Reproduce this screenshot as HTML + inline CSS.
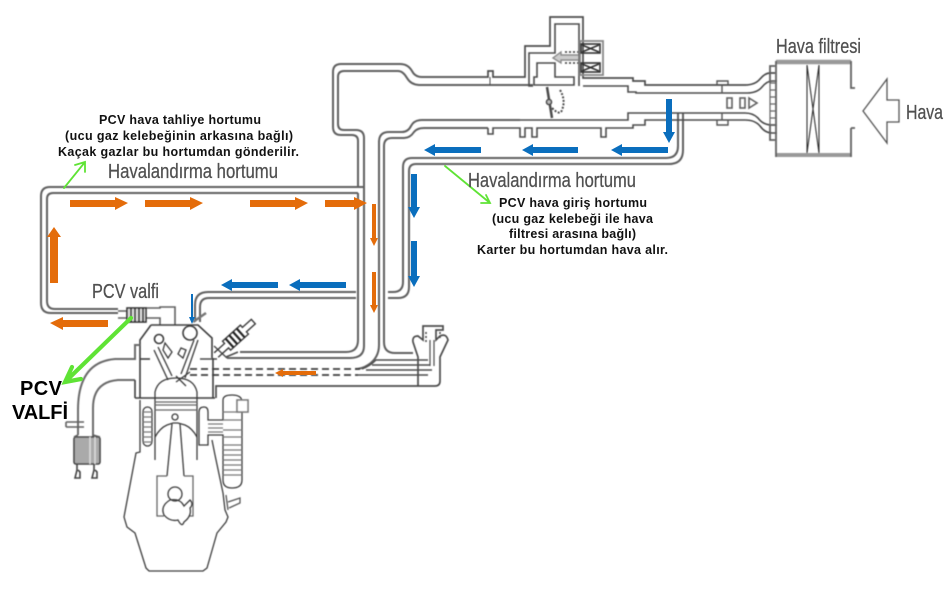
<!DOCTYPE html>
<html><head><meta charset="utf-8"><style>
html,body{margin:0;padding:0;background:#fff;width:947px;height:597px;overflow:hidden}
svg{display:block}
.b{font:bold 12.5px "Liberation Sans",sans-serif;fill:#111}
.g{font:20px "Liberation Sans",sans-serif;fill:#505050;stroke:#505050;stroke-width:.25}
.k{font:bold 20px "Liberation Sans",sans-serif;fill:#000}
</style></head><body>
<svg width="947" height="597" viewBox="0 0 947 597" xmlns="http://www.w3.org/2000/svg">
<defs><filter id="s" x="-5%" y="-5%" width="110%" height="110%"><feGaussianBlur stdDeviation="0.4"/></filter></defs>
<g fill="none" stroke="#505050" stroke-width="1.6" filter="url(#s)">
<!-- hoses -->
<g stroke="#606060" stroke-width="2">
<path d="M364 187H50Q41 187 41 196V303Q41 313 51 313H118"/>
<path d="M358 193H53Q47 193 47 199V301Q47 309 55 309H118"/>
<path d="M358 187V141Q358 135 352 135H341Q333 135 333 127V72Q333 64 341 64H400Q408 64 412 71Q415 77 422 77H487"/>
<path d="M364 187V138Q364 130 356 130H344Q338 130 338 124V77Q338 71 344 71H398Q403 71 407 78Q411 85 420 85H533"/>
<path d="M358 193V340Q358 352 346 352H240"/>
<path d="M364 187V346Q364 358 350 358H227"/>
<path d="M379 187V142Q379 132 389 132H402Q408 132 411 126Q414 120 422 120H520"/>
<path d="M384 187V146Q384 138 392 138H404Q410 138 414 132Q417 128 424 128H488"/>
<path d="M379 187V345Q379 358 368 365Q362 369 355 369"/>
<path d="M384 187V342Q384 353 395 353H413"/>
<path d="M678 113V146Q678 158 666 158H412Q403 158 403 167V282Q403 292 393 292H388"/>
<path d="M683 113V150Q683 164 669 164H416Q409 164 409 171V287Q409 298 398 298H388"/>
<path d="M356 292H208Q195 292 195 305V322"/>
<path d="M356 298H209Q200 298 200 307V322"/>
</g>
<!-- throttle body -->
<g stroke="#4c4c4c">
<path d="M487 77H488V71H493V77H525V46H550V17H583V78H633V81H645V85H745Q755 85 760 79Q765 73 770 73H775" stroke-width="1.7"/>
<path d="M533 86H529V53H555V24H579V86"/>
<path d="M490 77V85" stroke-width="1"/>
<path d="M583 86H628V92H636V93H747Q757 93 762 87Q767 81 772 81H777"/>
<path d="M534 85V77H537V63H555V77H574V85Z"/>
<path d="M488 128V134H493V128H520V137H525V128H532V137H537V128H601V137H606V128H633V125H645V120H745Q755 120 760 126Q765 133 772 133H777"/>
<path d="M520 120H628V113H745Q753 113 758 118Q763 125 772 125H777"/>
<path d="M717 85V81H728V85M717 120V125H728V120M722 85V93M722 113V120" stroke-width="1.4" stroke="#555"/>
<path d="M547 87L552 118" stroke-width="2.5"/>
<circle cx="549" cy="102" r="2.5" fill="#bbb"/>
<path d="M560 90Q566 100 562 110Q560 116 552 108" stroke-width="2" stroke-dasharray="2 1.5"/>
<rect x="580" y="41" width="23" height="34" stroke="#888" stroke-width="1.8"/>
<rect x="581" y="44" width="19" height="9" stroke="#333"/>
<path d="M582 45L599 52M582 52L599 45" stroke="#333"/>
<rect x="581" y="63" width="19" height="9" stroke="#333"/>
<path d="M582 64L599 71M582 71L599 64" stroke="#333"/>
<path d="M578 55H561V52L553 58L561 63V60H578" stroke="#888" stroke-width="1.4" fill="#ccc"/>
<path d="M565 52H578M565 63H578" stroke-dasharray="2 2" stroke="#333"/>
</g>
<!-- filter -->
<path d="M776 62H851" stroke="#999" stroke-width="4.5"/>
<path d="M776 155H851" stroke="#999" stroke-width="4"/>
<path d="M776 61V157M851 61V88H855M851 128H855M851 128V157M775 66H770V83M775 125H770V140H775" stroke="#606060" stroke-width="1.8"/>
<path d="M807 65V153M819 65V153M807 65L819 153M819 65L807 153" stroke="#333" stroke-width="1.1"/>
<path d="M770 83H776V125H770ZM770 90H776M770 97H776M770 104H776M770 111H776M770 118H776" stroke="#666" stroke-width="1.2"/>
<path d="M863 111L887 79V100H899V122H887V143Z" stroke="#555" stroke-width="1.3"/>
<rect x="727" y="98" width="5" height="10" stroke="#606060"/>
<rect x="740" y="98" width="5" height="10" stroke="#606060"/>
<path d="M749 98L757 103L749 108Z" stroke="#606060"/>
<!-- lower passage -->
<g stroke="#4c4c4c">
<path d="M190 369H360" stroke-dasharray="7 4" stroke="#3c3c3c" stroke-width="1.7"/>
<path d="M190 375H358" stroke-dasharray="7 4" stroke="#3c3c3c" stroke-width="1.7"/>
<path d="M216 398V386H435Q440 386 440 381V357L448 340Q446 333 440 336L436 340V330H443V326H423V340L418 336Q412 336 413 342L418 357V386" stroke-width="1.7"/>
<path d="M362 369Q370 366 376 360H428M372 365H430M366 370H432M358 375H428" stroke-width="1.4"/>
<path d="M430 340V366M434 340V366" stroke-width="1.2"/>
<path d="M426 332V342M440 332V338" stroke-dasharray="2 2"/>
<path d="M227 358L214 346M238 352L226 357M200 359H217" stroke-width="1.5"/>
</g>
<!-- PCV valve -->
<path d="M118 311H127M118 318H127V311M146 308H160V307H175V325M146 318H160V325" stroke="#606060" stroke-width="1.6"/>
<rect x="127" y="308" width="19" height="14" stroke="#333" fill="#ddd"/>
<path d="M131 308V322M135 308V322M139 308V322M143 308V322" stroke="#222"/>
<!-- head -->
<g stroke="#3c3c3c">
<path d="M151 325H198L212 338V358M151 325L140 340V398M135 398H215M213 358V398"/>
<path d="M140 345H135V359H115Q78 362 78 410V435" stroke="#6a6a6a" stroke-width="2"/>
<path d="M135 380H118Q93 382 93 408V437" stroke="#6a6a6a" stroke-width="2"/>
<path d="M135 380V398"/>
<path d="M140 359H150"/>
<circle cx="159" cy="339" r="4.5"/>
<path d="M154 350L168 380M158 347L172 376M165 343L172 352L168 358L163 350Z" stroke-width="1.3"/>
<circle cx="190" cy="333" r="7"/>
<path d="M198 340L185 378M194 340L181 374M181 348L186 350L183 358L178 354ZM176 382L190 372M176 376L186 386" stroke-width="1.3"/>
<path d="M193 322L206 313" stroke="#777" stroke-width="2.5"/>
<g transform="translate(234 339) rotate(-42)">
<path d="M-24 -3H-10V-6H14V-3H26V3H14V6H-10V3H-24" stroke-width="1.4"/>
<path d="M-6 -6V6M-1 -6V6M4 -6V6M9 -6V6" stroke="#222" stroke-width="2.2"/>
</g>
</g>
<!-- cylinder -->
<g stroke="#3c3c3c" stroke-width="1.3">
<path d="M155 460V392Q158 378 176 378Q194 378 197 392V460"/>
<path d="M155 402H197M155 405H197M155 410H197" stroke="#666"/>
<circle cx="175" cy="417" r="3"/>
<path d="M155 437Q160 428 167 425L173 423H178L185 425Q192 428 197 437"/>
<path d="M172 424L167 476M180 424L184 476"/>
<path d="M167 476H157V516H164M184 476H193V516H189" stroke="#666"/>
<circle cx="175" cy="494" r="7"/>
<path d="M170 500Q160 506 164 515Q170 522 178 520Q182 528 184 522Q192 516 190 508Q194 504 190 500L184 506Q180 498 170 500Z"/>
<path d="M140 400V452L136 453L124 517L127 527L135 533L146 568L149 571H203L207 568L217 533L226 522L228 517L225 510L223 493L215 455L212 440"/>
<rect x="143" y="407" width="9" height="39" rx="4.5"/>
<path d="M143 412H152M143 417H152M143 422H152M143 427H152M143 432H152M143 437H152M143 442H152" stroke="#777"/>
<path d="M199 445V412Q199 407 204 407Q208 407 208 412V420H223V400Q223 395 232 395Q242 395 242 402V480Q242 488 232 488Q223 488 223 480V435H208V445Z"/>
<path d="M208 424H223M208 428H223M208 432H223M223 445H242M223 450H242M223 455H242M223 460H242M223 465H242M223 470H242M223 475H242M223 412H242M223 420H242M223 430H242M223 437H242" stroke="#777"/>
<rect x="237" y="400" width="11" height="12" fill="#fff" stroke="#777" stroke-width="1.6"/>
<path d="M226 495L228 510M228 502L240 498V503L229 508" stroke="#555"/>
</g>
<!-- canister -->
<rect x="74" y="437" width="26" height="27" rx="2" fill="#aaa" stroke="#444"/>
<path d="M90 437V464M95 437V464" stroke="#ddd" stroke-width="1.5"/>
<path d="M66 422H84M66 427H84M66 422V427" stroke="#606060"/>
<path d="M78 435L74 437M93 435L100 437" stroke="#606060"/>
<path d="M77 464V470L75 478H80V472L78 470M94 464V470L92 478H97V472L95 470" stroke="#444"/>
</g>
<!-- arrows -->
<g fill="#e46c0a">
<path d="M70 200H115V197L128 203L115 210V207H70Z"/>
<path d="M145 200H190V197L203 203L190 210V207H145Z"/>
<path d="M250 200H295V197L308 203L295 210V207H250Z"/>
<path d="M325 200H354V197L367 203L354 210V207H325Z"/>
<path d="M50 283V237H47L54 227L61 237H58V283Z"/>
<path d="M50 323L63 317V320H108V327H63V330Z"/>
<path d="M372 204H376V238H378L374 246L370 238H372Z"/>
<path d="M372 272H376V305H378L374 313L370 305H372Z"/>
<path d="M275 373L283 369V371H316V375H283V377Z"/>
</g>
<g fill="#0a6ebd">
<path d="M221 285L232 279V282H278V288H232V291Z"/>
<path d="M289 285L300 279V282H346V288H300V291Z"/>
<path d="M424 150L435 144V147H481V153H435V156Z"/>
<path d="M522 150L533 144V147H578V153H533V156Z"/>
<path d="M611 150L622 144V147H668V153H622V156Z"/>
<path d="M666 99H672V132H675L669 143L663 132H666Z"/>
<path d="M411 174H417V207H420L414 218L408 207H411Z"/>
<path d="M411 241H417V276H420L414 287L408 276H411Z"/>
<path d="M191 294H193V317H195L192 324L189 317H191Z"/>
</g>
<!-- green -->
<g fill="none" stroke="#5fe335" stroke-linecap="round">
<path d="M64 188L85 162M75 165L85 162L85 172" stroke-width="1.8"/>
<path d="M445 166L490 203M481 203L490 203L486 195" stroke-width="1.8"/>
<path d="M131 318L65 382M72 367L65 382L81 379" stroke-width="4.2"/>
</g>
<!-- text -->
<text class="b" x="99" y="124" textLength="162">PCV hava tahliye hortumu</text>
<text class="b" x="65" y="140" textLength="228">(ucu gaz kelebeğinin arkasına bağlı)</text>
<text class="b" x="58" y="156" textLength="241">Kaçak gazlar bu hortumdan gönderilir.</text>
<text class="b" x="499" y="207" textLength="148">PCV hava giriş hortumu</text>
<text class="b" x="492" y="223" textLength="161">(ucu gaz kelebeği ile hava</text>
<text class="b" x="509" y="238" textLength="127">filtresi arasına bağlı)</text>
<text class="b" x="477" y="254" textLength="191">Karter bu hortumdan hava alır.</text>
<text class="g" x="108" y="178" textLength="170" lengthAdjust="spacingAndGlyphs">Havalandırma hortumu</text>
<text class="g" x="468" y="187" textLength="168" lengthAdjust="spacingAndGlyphs">Havalandırma hortumu</text>
<text class="g" x="92" y="298" textLength="67" lengthAdjust="spacingAndGlyphs">PCV valfi</text>
<text class="g" x="776" y="53" textLength="85" lengthAdjust="spacingAndGlyphs">Hava filtresi</text>
<text class="g" x="906" y="119" textLength="37" lengthAdjust="spacingAndGlyphs">Hava</text>
<text class="k" x="20" y="395" textLength="42">PCV</text>
<text class="k" x="12" y="419" textLength="56">VALFİ</text>
</svg>
</body></html>
